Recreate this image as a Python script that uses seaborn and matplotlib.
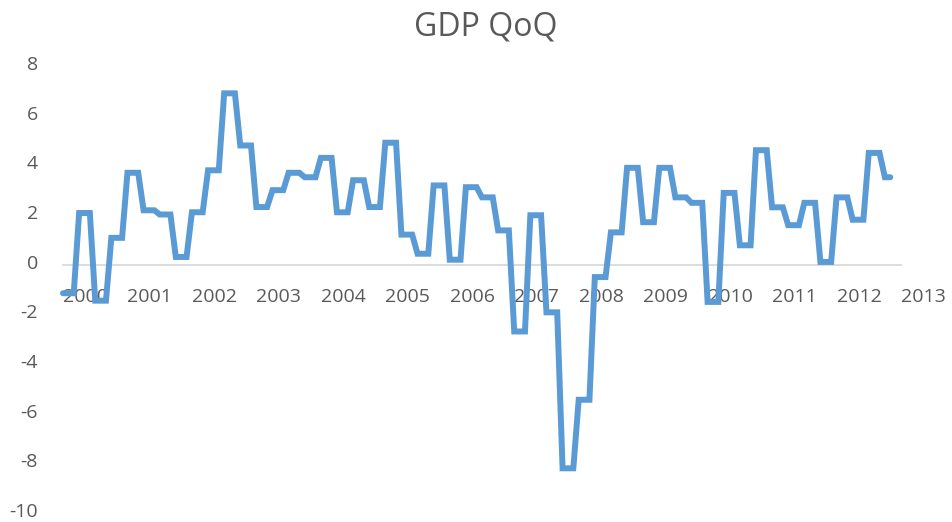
import numpy as np
import pandas as pd
import matplotlib.pyplot as plt
import matplotlib.transforms as mtransforms
import seaborn as sns

# quarterly GDP growth (QoQ, annualised %), 2000Q1 .. 2012Q4
gdp_qoq = [-1.15, 2.08, -1.45, 1.08,
           3.70, 2.19, 2.02, 0.31,
           2.11, 3.80, 6.90, 4.80,
           2.32, 3.00, 3.70, 3.52,
           4.30, 2.11, 3.40, 2.32,
           4.91, 1.21, 0.44, 3.19,
           0.20, 3.12, 2.71, 1.38,
           -2.69, 1.99, -1.92, -8.20,
           -5.44, -0.50, 1.30, 3.90,
           1.71, 3.90, 2.71, 2.49,
           -1.50, 2.89, 0.78, 4.61,
           2.31, 1.59, 2.49, 0.11,
           2.71, 1.81, 4.50, 3.52]
years = list(range(2000, 2014))
y_ticks = [8, 6, 4, 2, 0, -2, -4, -6, -8, -10]
n_months = 155  # monthly series, each quarter's value held for its 3 months

monthly = np.repeat(gdp_qoq, 3)[:n_months]
df = pd.DataFrame({"month": np.arange(n_months), "gdp": monthly})

sns.set_style("white")
plt.rcParams['font.family'] = ['Open Sans', 'DejaVu Sans']
text_color = '#595959'
axis_color = '#D9D9D9'

fig = plt.figure(figsize=(9.53, 5.22), dpi=100)
ax = fig.add_axes([63 / 953, 1 - 513 / 522, (901 - 63) / 953, (513 - 66) / 522])

sns.lineplot(data=df, x="month", y="gdp", ax=ax, color='#5B9BD5', linewidth=4.3,
             zorder=3, clip_on=False)
ax.lines[0].set_solid_joinstyle('miter')

ax.set_xlim(0, 12 * (len(years) - 1))
ax.set_ylim(-10, 8)
ax.set_xlabel('')
ax.set_ylabel('')

for side in ['top', 'right', 'left']:
    ax.spines[side].set_visible(False)
ax.spines['bottom'].set_position(('data', 0))
ax.spines['bottom'].set_color(axis_color)
ax.spines['bottom'].set_linewidth(1.3)

ax.set_xticks([12 * i for i in range(len(years))])
ax.set_xticklabels([str(y) for y in years], ha='left')
ax.tick_params(axis='x', direction='out', length=5, width=1.3, color=axis_color,
               labelsize=14, labelcolor=text_color, pad=12)
ax.set_yticks(y_ticks)
ax.set_yticklabels([str(t) for t in y_ticks])
ax.tick_params(axis='y', length=0, labelsize=14, labelcolor=text_color, pad=18)
# nudge y labels up a little so the bottom one stays inside the figure
lift = mtransforms.ScaledTranslation(0, 3 / 100, fig.dpi_scale_trans)
for lab in ax.get_yticklabels():
    lab.set_transform(lab.get_transform() + lift)

fig.text(486 / 953, 1 - 27 / 522, "GDP QoQ", ha='center', va='center',
         fontsize=23, color=text_color)

fig.savefig("out.png", dpi=100)
